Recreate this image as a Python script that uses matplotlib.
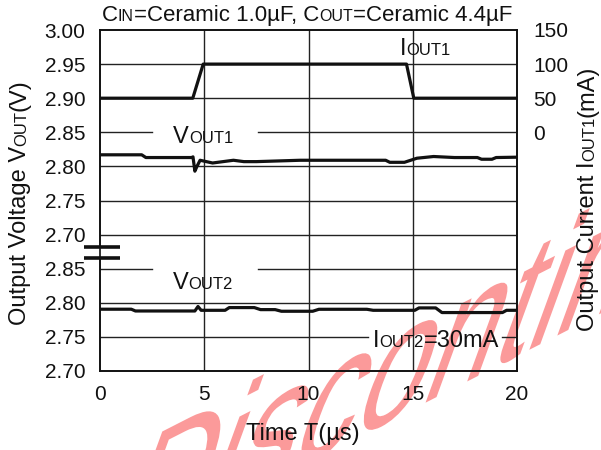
import numpy as np
import matplotlib
matplotlib.use('Agg')
import matplotlib.pyplot as plt
import matplotlib.transforms as mtransforms
from matplotlib.textpath import TextPath
from matplotlib.patches import PathPatch, Rectangle
from matplotlib.font_manager import FontProperties

plt.rcParams['font.family'] = ['Liberation Sans', 'DejaVu Sans']

# Transitorio de carga: IOUT1 50mA -> 100mA -> 50mA, IOUT2 fijo en 30mA
t_iout1 = [0, 4.45, 4.95, 14.7, 15.05, 20]
iout1 = [50, 50, 100, 100, 50, 50]

t_vout1 = [0, 2.0, 2.2, 4.4, 4.46, 4.55, 4.65, 4.8, 4.95, 5.4, 5.9, 6.4, 6.9, 7.5, 9.6,
           13.7, 13.9, 14.6, 14.8, 15.2, 16.0, 17.0, 18.1, 18.3, 18.8, 19.0, 20]
vout1 = [2.817, 2.817, 2.813, 2.813, 2.814, 2.793, 2.800, 2.809, 2.808, 2.805, 2.807, 2.809,
         2.807, 2.807, 2.809, 2.809, 2.806, 2.806, 2.808, 2.812, 2.8145, 2.813, 2.813, 2.8105,
         2.8105, 2.813, 2.8135]

t_vout2 = [0, 1.5, 1.7, 4.55, 4.7, 4.85, 5.0, 6.0, 6.2, 7.4, 7.7, 8.4, 8.7, 10.2, 10.5,
           12.8, 13.1, 15.1, 15.3, 16.1, 16.4, 19.3, 19.5, 20]
vout2 = [2.7906, 2.7906, 2.788, 2.788, 2.7946, 2.789, 2.789, 2.789, 2.793, 2.793, 2.790,
         2.790, 2.7876, 2.7876, 2.7905, 2.7905, 2.789, 2.789, 2.7925, 2.7925, 2.7857, 2.7857,
         2.789, 2.789]

# eje Y partido: el bloque inferior (VOUT2) se dibuja desplazado 0.20V hacia abajo
corte = 0.20
y_pos = np.round(np.arange(2.50, 3.001, 0.05), 2)
y_etiquetas = ['2.70', '2.75', '2.80', '2.85', '2.70', '2.75', '2.80', '2.85', '2.90', '2.95', '3.00']
x_ticks = [0, 5, 10, 15, 20]
i_ticks = [0, 50, 100, 150]

W, H = 601, 450
fig = plt.figure(figsize=(W / 100, H / 100), dpi=100)
ax = fig.add_axes([100 / W, 1 - 371 / H, 417 / W, 341 / H])
ax.set_facecolor('none')
ax.set_xlim(0, 20)
ax.set_ylim(2.50, 3.00)

# rejilla (algunas lineas con hueco para las etiquetas)
gc = '#222222'
huecos = {2.85: (2.5, 7.6), 2.65: (2.5, 7.6), 2.55: (12.85, 19.3)}
for y in y_pos[1:-1]:
    if y in huecos:
        a, b = huecos[y]
        ax.plot([0, a], [y, y], color=gc, lw=1.0, zorder=1)
        ax.plot([b, 20], [y, y], color=gc, lw=1.0, zorder=1)
    else:
        ax.axhline(y, color=gc, lw=1.0, zorder=1)
for x in [5, 10, 15]:
    ax.axvline(x, color=gc, lw=1.0, zorder=1)

ax.plot(t_vout1, vout1, color='#111111', lw=2.3, zorder=3)
ax.plot(t_vout2, np.array(vout2) - corte, color='#111111', lw=2.3, zorder=3)

ax2 = ax.twinx()
ax2.set_ylim(-350, 150)
ax2.plot(t_iout1, iout1, color='#111111', lw=2.3, zorder=3)

ax.set_xticks(x_ticks)
ax.set_yticks(y_pos, y_etiquetas)
ax2.set_yticks(i_ticks)
ax.tick_params(axis='both', length=0, labelsize=15, labelcolor='#111111')
ax.tick_params(axis='x', pad=10)
ax.tick_params(axis='y', pad=10.5)
ax2.tick_params(axis='y', length=0, labelsize=15, pad=11.5, labelcolor='#111111')
for a in (ax, ax2):
    for s in a.spines.values():
        s.set_linewidth(1.2)
        s.set_color('#111111')

# marca de corte del eje
bt = mtransforms.blended_transform_factory(ax.transAxes, ax.transData)
ax.add_patch(Rectangle((-0.01, 2.6654), 0.02, 2.6815 - 2.6654, transform=bt,
                       facecolor='white', edgecolor='none', clip_on=False, zorder=4))
for yb in [2.6815, 2.6654]:
    ax.plot([-0.038, 0.048], [yb, yb], transform=bt, color='#111111', lw=2.6,
            clip_on=False, zorder=5, solid_capstyle='butt')

renderer = fig.canvas.get_renderer()
GRANDE, CHICA = 17, 12


def texto_versalitas(x, y, partes, rotacion=0):
    # partes: (texto, tamaño); x, y en pixeles desde arriba-izquierda, y = linea base
    anchos = []
    for s, fs in partes:
        t = fig.text(0, 0, s, fontsize=fs)
        anchos.append(t.get_window_extent(renderer).width)
        t.remove()
    total = sum(anchos)
    off = -total / 2
    for (s, fs), w in zip(partes, anchos):
        if rotacion == 0:
            px, py = x + off, H - y
        else:
            px, py = x, H - y + off
        fig.text(px, py, s, fontsize=fs, ha='left', va='baseline', rotation=rotacion,
                 rotation_mode='anchor', transform=mtransforms.IdentityTransform(),
                 color='#111111')
        off += w


texto_versalitas(307, 21, [('C', 16), ('IN', 11.5), ('=Ceramic 1.0µF, C', 16),
                           ('OUT', 11.5), ('=Ceramic 4.4µF', 16)])
texto_versalitas(203, 143, [('V', GRANDE), ('OUT1', CHICA)])
texto_versalitas(425, 55, [('I', GRANDE), ('OUT1', CHICA)])
texto_versalitas(203, 289, [('V', GRANDE), ('OUT2', CHICA)])
texto_versalitas(436, 347, [('I', GRANDE), ('OUT2', CHICA), ('=30mA', GRANDE)])
texto_versalitas(303, 440, [('Time T(µs)', GRANDE)])
texto_versalitas(26, 202, [('Output Voltage V', GRANDE), ('OUT', CHICA), ('(V)', GRANDE)],
                 rotacion=90)
texto_versalitas(594, 198, [('Output Current I', GRANDE), ('OUT1', CHICA), ('(mA)', GRANDE)],
                 rotacion=90)

# sello de fondo
alfa, beta = np.radians(27), np.radians(70)
sx, sy = 140, 200
ruta = TextPath((0, 0), 'Discontinued', size=1, prop=FontProperties(family='Liberation Sans'))
m = mtransforms.Affine2D.from_values(sx * np.cos(alfa), sx * np.sin(alfa),
                                     sy * np.cos(beta), sy * np.sin(beta), 105, -116)
sello = PathPatch(ruta, transform=m + mtransforms.IdentityTransform(),
                  facecolor='#fb9a9a', edgecolor='none', zorder=-1)
fig.add_artist(sello)

fig.savefig('out.png', dpi=100)
